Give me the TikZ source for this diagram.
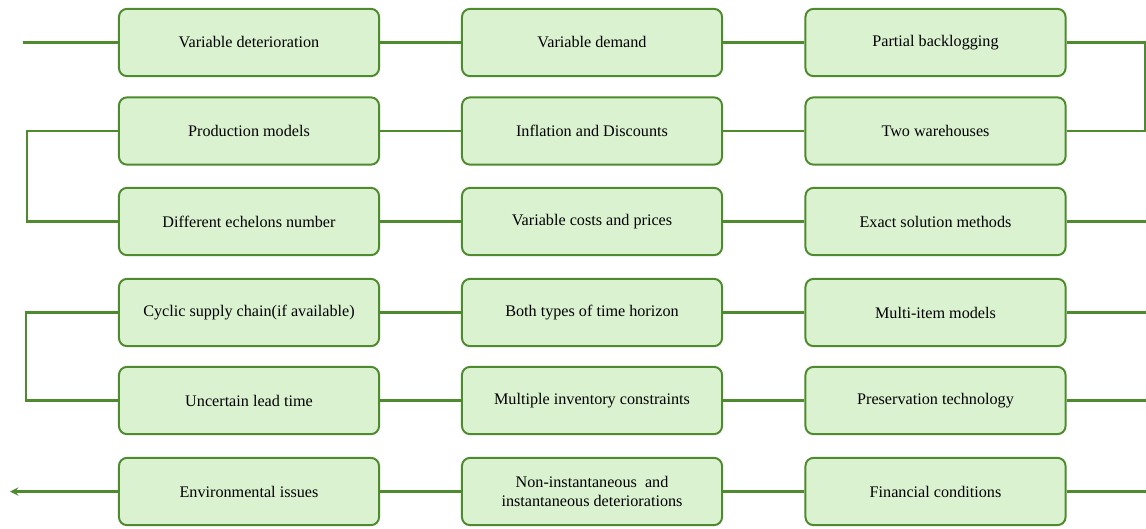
\documentclass[tikz,border=0pt]{standalone}
\usepackage{fontspec}
\setmainfont{Liberation Serif}

\definecolor{boxfill}{HTML}{DAF2D0}
\definecolor{boxline}{HTML}{4E8A2E}

\tikzstyle{element}=[rectangle, draw=boxline, fill=boxfill, line width=1.4pt,
                     minimum width=6.5cm, minimum height=1.68cm,
                     inner sep=0.1cm, rounded corners=0.2cm, align=center,
                     font=\fontsize{11.5}{13}\selectfont]
\tikzstyle{link}=[draw=boxline, line width=1.6pt]

\begin{document}
\begin{tikzpicture}[x=0.025cm, y=-0.025cm]

  \useasboundingbox (0, 0) rectangle (1146, 528);

  %%%%%%%%%%%%%%%%%%%%%%%%%%%%%%
  % boxes, row by row
  \node (VarDet) at (249, 42.5) [element] {Variable deterioration};
  \node (VarDem) at (592, 42.5) [element] {Variable demand};
  \node (PartBack) at (935.5, 42.5) [element] {Partial backlogging};

  \node (ProdMod) at (249, 131) [element] {Production models};
  \node (InflDisc) at (592, 131) [element] {Inflation and Discounts};
  \node (TwoWare) at (935.5, 131) [element] {Two warehouses};

  \node (DiffEch) at (249, 221.5) [element] {Different echelons number};
  \node (VarCost) at (592, 221.5) [element] {Variable costs and prices};
  \node (ExactSol) at (935.5, 221.5) [element] {Exact solution methods};

  \node (Cyclic) at (249, 312.5) [element] {Cyclic supply chain(if available)};
  \node (BothTime) at (592, 312.5) [element] {Both types of time horizon};
  \node (MultiItem) at (935.5, 312.5) [element] {Multi-item models};

  \node (Uncert) at (249, 400.5) [element] {Uncertain lead time};
  \node (MultInv) at (592, 400.5) [element] {Multiple inventory constraints};
  \node (Preserv) at (935.5, 400.5) [element] {Preservation technology};

  \node (Environ) at (249, 491.5) [element] {Environmental issues};
  \node (NonInst) at (592, 491.5) [element] {Non-instantaneous\ \ and\\instantaneous deteriorations};
  \node (Financ) at (935.5, 491.5) [element] {Financial conditions};

  %%%%%%%%%%%%%%%%%%%%%%%%%%%%%%
  % free ends and turning points
  \coordinate (start) at (23, 42.5);
  \coordinate (turnR) at (1145, 42.5);
  \coordinate (turnL) at (27, 131);
  \coordinate (outA) at (1146, 221.5);
  \coordinate (inA) at (1146, 312.5);
  \coordinate (turnL2) at (26, 312.5);
  \coordinate (outB) at (1146, 400.5);
  \coordinate (inB) at (1146, 491.5);
  \coordinate (finish) at (10, 491.5);

  %%%%%%%%%%%%%%%%%%%%%%%%%%%%%%
  % the chain
  \draw [link] (start) to (VarDet.west);
  \draw [link] (VarDet) to (VarDem);
  \draw [link] (VarDem) to (PartBack);
  \draw [link] (PartBack.east) -- (turnR) |- (TwoWare.east);
  \draw [link] (TwoWare) to (InflDisc);
  \draw [link] (InflDisc) to (ProdMod);
  \draw [link] (ProdMod.west) -- (turnL) |- (DiffEch.west);
  \draw [link] (DiffEch) to (VarCost);
  \draw [link] (VarCost) to (ExactSol);
  \draw [link] (ExactSol.east) to (outA);

  \draw [link] (inA) to (MultiItem.east);
  \draw [link] (MultiItem) to (BothTime);
  \draw [link] (BothTime) to (Cyclic);
  \draw [link] (Cyclic.west) -- (turnL2) |- (Uncert.west);
  \draw [link] (Uncert) to (MultInv);
  \draw [link] (MultInv) to (Preserv);
  \draw [link] (Preserv.east) to (outB);

  \draw [link] (inB) to (Financ.east);
  \draw [link] (Financ) to (NonInst);
  \draw [link] (NonInst) to (Environ);
  \draw [link, -stealth] (Environ.west) to (finish);

\end{tikzpicture}
\end{document}
